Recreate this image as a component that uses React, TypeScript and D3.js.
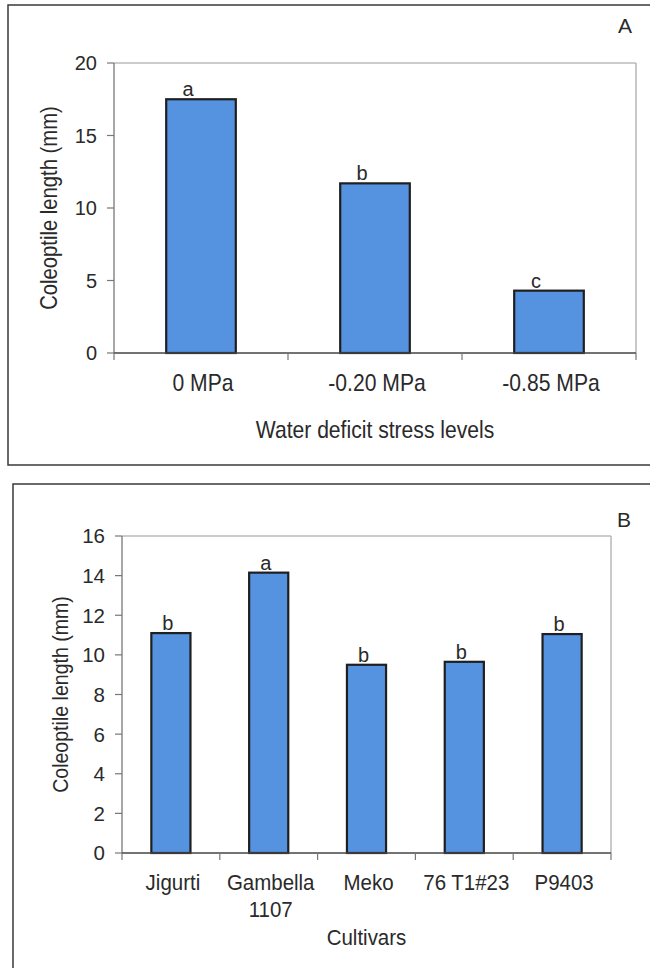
import React from "react";
import * as d3 from "d3";

// ---- Panel A data ----
const stressLevels = ["0 MPa", "-0.20 MPa", "-0.85 MPa"];
const stressLengths = [17.5, 11.7, 4.3];
const stressLetters = ["a", "b", "c"];
const stressTicks = [0, 5, 10, 15, 20];

// ---- Panel B data ----
const cultivars = ["Jigurti", "Gambella\n1107", "Meko", "76 T1#23", "P9403"];
const cultivarLengths = [11.1, 14.15, 9.5, 9.65, 11.05];
const cultivarLetters = ["b", "a", "b", "b", "b"];
const cultivarTicks = [0, 2, 4, 6, 8, 10, 12, 14, 16];

const FONT = "'Liberation Sans', Arial, Helvetica, sans-serif";
const BAR_FILL = "#5592e0";
const BAR_STROKE = "#1f1f1f";
const INK = "#2a2a2a";

type PanelProps = {
  categories: string[];
  values: number[];
  letters: string[];
  ticks: number[];
  yMax: number;
  x0: number;
  x1: number;
  yTop: number;
  yBottom: number;
  frame: { x: number; y: number; w: number; h: number };
  panelLabel: string;
  panelLabelPos: [number, number];
  xTitle: string;
  xTitleY: number;
  catY: number;
  textFont: number;
  textScale: number;
  tickFont: number;
  yLabelX: number;
  letterDx: number;
};

function Panel(p: PanelProps) {
  const x = d3
    .scaleBand<string>()
    .domain(p.categories)
    .range([p.x0, p.x1])
    .paddingInner(0.6)
    .paddingOuter(0.3);
  const y = d3.scaleLinear().domain([0, p.yMax]).range([p.yBottom, p.yTop]);
  const step = x.step();
  const boundaries = d3.range(p.categories.length + 1).map((i) => p.x0 + i * step);
  const midY = (p.yTop + p.yBottom) / 2;
  const midX = (p.x0 + p.x1) / 2;
  const s = p.textScale;

  return (
    <g>
      {/* outer frame */}
      <rect
        x={p.frame.x}
        y={p.frame.y}
        width={p.frame.w}
        height={p.frame.h}
        fill="none"
        stroke="#3a3a3a"
        strokeWidth={1.5}
      />
      {/* plot area border (top, right) */}
      <line x1={p.x0} x2={p.x1} y1={p.yTop} y2={p.yTop} stroke="#9a9a9a" strokeWidth={1.2} />
      <line x1={p.x1} x2={p.x1} y1={p.yTop} y2={p.yBottom} stroke="#a5a5a5" strokeWidth={1.2} />
      {/* y axis */}
      <line x1={p.x0} x2={p.x0} y1={p.yTop} y2={p.yBottom} stroke="#777" strokeWidth={1.3} />
      {p.ticks.map((t) => (
        <g key={"yt" + t}>
          <line x1={p.x0 - 7} x2={p.x0} y1={y(t)} y2={y(t)} stroke="#777" strokeWidth={1.2} />
          <text
            x={p.x0 - 17}
            y={y(t)}
            dy="0.36em"
            textAnchor="end"
            fontSize={p.tickFont}
            fontFamily={FONT}
            fill={INK}
          >
            {t}
          </text>
        </g>
      ))}
      {/* bars */}
      {p.categories.map((c, i) => (
        <rect
          key={"bar" + i}
          x={x(c)}
          y={y(p.values[i])}
          width={x.bandwidth()}
          height={y(0) - y(p.values[i])}
          fill={BAR_FILL}
          stroke={BAR_STROKE}
          strokeWidth={2.2}
        />
      ))}
      {/* significance letters */}
      {p.categories.map((c, i) => (
        <text
          key={"let" + i}
          x={(x(c) as number) + x.bandwidth() / 2 + p.letterDx}
          y={y(p.values[i]) - 3}
          textAnchor="middle"
          fontSize={20}
          fontFamily={FONT}
          fill={INK}
        >
          {p.letters[i]}
        </text>
      ))}
      {/* x axis */}
      <line x1={p.x0} x2={p.x1} y1={p.yBottom} y2={p.yBottom} stroke="#444" strokeWidth={1.6} />
      {boundaries.map((bx, i) => (
        <line key={"xt" + i} x1={bx} x2={bx} y1={p.yBottom} y2={p.yBottom + 7} stroke="#777" strokeWidth={1.2} />
      ))}
      {p.categories.map((c, i) => {
        const lines = c.split("\n");
        const cx = (x(c) as number) + x.bandwidth() / 2 + 2;
        return (
          <text
            key={"cat" + i}
            transform={`translate(${cx},${p.catY}) scale(${s},1)`}
            textAnchor="middle"
            fontSize={p.textFont}
            fontFamily={FONT}
            fill={INK}
          >
            {lines.map((l, j) => (
              <tspan key={j} x={0} dy={j === 0 ? 0 : 27}>
                {l}
              </tspan>
            ))}
          </text>
        );
      })}
      {/* axis titles */}
      <text
        transform={`translate(${midX},${p.xTitleY}) scale(${s},1)`}
        textAnchor="middle"
        fontSize={p.textFont}
        fontFamily={FONT}
        fill={INK}
      >
        {p.xTitle}
      </text>
      <text
        transform={`translate(${p.yLabelX},${midY}) rotate(-90) scale(${s},1)`}
        textAnchor="middle"
        fontSize={p.textFont - 1}
        fontFamily={FONT}
        fill={INK}
      >
        Coleoptile length (mm)
      </text>
      {/* panel letter */}
      <text
        x={p.panelLabelPos[0]}
        y={p.panelLabelPos[1]}
        fontSize={21}
        fontFamily={FONT}
        fill={INK}
      >
        {p.panelLabel}
      </text>
    </g>
  );
}

export default function App() {
  return (
    <svg
      width={650}
      height={968}
      viewBox="0 0 650 968"
      style={{ position: "absolute", left: 0, top: 0, background: "#ffffff" }}
    >
      <rect x={0} y={0} width={650} height={968} fill="#ffffff" />
      <Panel
        categories={stressLevels}
        values={stressLengths}
        letters={stressLetters}
        ticks={stressTicks}
        yMax={20}
        x0={114}
        x1={636}
        yTop={63}
        yBottom={353}
        frame={{ x: 8, y: 5, w: 700, h: 460 }}
        panelLabel="A"
        panelLabelPos={[618, 33]}
        xTitle="Water deficit stress levels"
        xTitleY={438}
        catY={391}
        textFont={24}
        textScale={0.88}
        tickFont={20}
        yLabelX={57}
        letterDx={-13}
      />
      <Panel
        categories={cultivars}
        values={cultivarLengths}
        letters={cultivarLetters}
        ticks={cultivarTicks}
        yMax={16}
        x0={122}
        x1={611}
        yTop={536}
        yBottom={853}
        frame={{ x: 13, y: 484, w: 700, h: 600 }}
        panelLabel="B"
        panelLabelPos={[617, 527]}
        xTitle="Cultivars"
        xTitleY={945}
        catY={890}
        textFont={22.5}
        textScale={0.91}
        tickFont={20.5}
        yLabelX={68}
        letterDx={-3}
      />
    </svg>
  );
}
